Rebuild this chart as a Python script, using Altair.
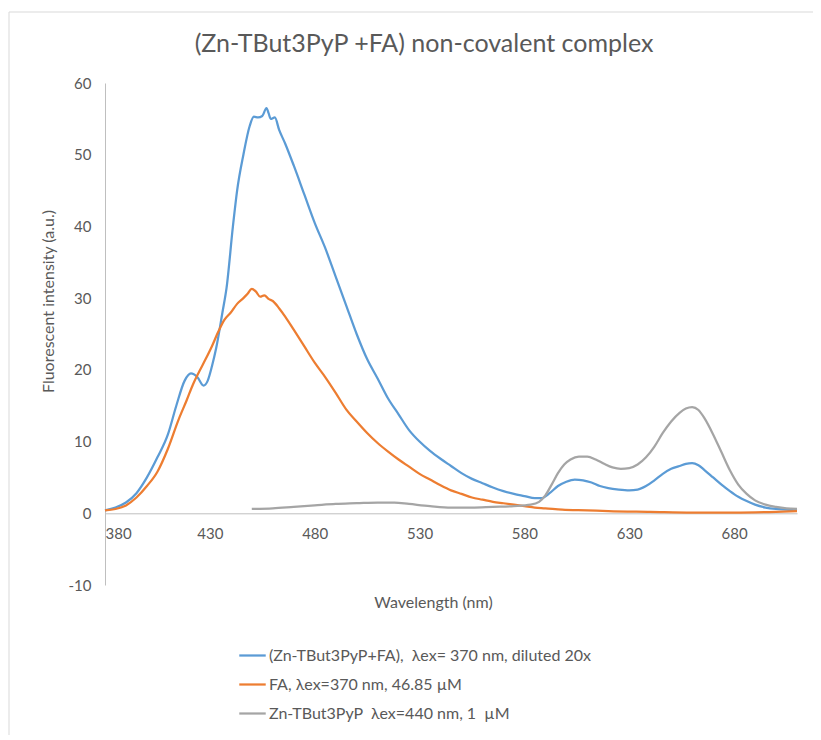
import altair as alt
import pandas as pd

# ---- data ----
blue_wl = [380, 385, 390, 395, 400, 405, 410, 414, 418, 421, 424, 427, 429, 431, 433, 436, 438, 441, 443, 446,
           449, 451, 453, 455, 457, 458, 459, 461, 463, 466, 470, 475, 480, 485, 490, 495, 500, 505, 510, 515,
           520, 525, 530, 535, 540, 545, 550, 555, 560, 565, 570, 575, 580, 585, 588, 592, 596, 600, 604, 608,
           612, 616, 620, 625, 630, 634, 638, 642, 646, 650, 654, 657, 660, 663, 666, 670, 674, 678, 682, 686,
           690, 695, 700, 705, 710]
blue_val = [0.4, 0.8, 1.5, 2.8, 5.0, 7.8, 11.0, 15.0, 18.5, 19.5, 19.0, 17.8, 18.5, 20.5, 23.0, 28.0, 31.5, 40.0, 45.0, 50.0,
            54.0, 55.3, 55.2, 55.4, 56.5, 55.8, 55.0, 55.2, 53.5, 51.5, 48.5, 44.5, 40.5, 37.0, 33.0, 29.0, 25.0, 21.5, 18.8, 16.0,
            13.8, 11.6, 10.0, 8.7, 7.6, 6.6, 5.6, 4.8, 4.2, 3.6, 3.1, 2.7, 2.4, 2.1, 2.1, 2.8, 3.8, 4.4, 4.7, 4.6,
            4.3, 3.8, 3.5, 3.3, 3.2, 3.3, 3.8, 4.6, 5.5, 6.2, 6.6, 6.9, 7.0, 6.7, 6.0, 5.0, 4.0, 3.1, 2.3, 1.7,
            1.2, 0.8, 0.6, 0.5, 0.4]

orange_wl = [380, 385, 390, 395, 400, 405, 410, 415, 419, 422, 425, 428, 431, 434, 437, 440, 443, 446, 448, 450,
             452, 454, 456, 458, 460, 463, 466, 470, 475, 480, 485, 490, 495, 500, 505, 510, 515, 520, 525, 530,
             535, 540, 545, 550, 555, 560, 565, 570, 575, 580, 585, 590, 598, 610, 620, 640, 660, 680, 700, 710]
orange_val = [0.4, 0.6, 1.1, 2.2, 3.8, 5.8, 9.0, 13.0, 15.8, 18.0, 19.8, 21.5, 23.3, 25.3, 27.0, 28.0, 29.2, 30.0, 30.6, 31.3,
              30.9, 30.2, 30.4, 29.9, 29.6, 28.6, 27.4, 25.6, 23.3, 21.0, 19.0, 16.8, 14.5, 12.8, 11.2, 9.8, 8.6, 7.5, 6.5, 5.5,
              4.7, 3.9, 3.2, 2.7, 2.2, 1.9, 1.6, 1.4, 1.2, 1.0, 0.8, 0.7, 0.5, 0.4, 0.3, 0.2, 0.1, 0.1, 0.2, 0.3]

gray_wl = [450, 460, 470, 480, 490, 500, 510, 518, 525, 535, 545, 555, 565, 575, 583, 587, 590, 593, 596, 599,
           602, 606, 610, 614, 618, 622, 626, 630, 634, 638, 642, 646, 650, 654, 657, 660, 663, 666, 670, 674,
           678, 682, 686, 690, 695, 700, 705, 710]
gray_val = [0.6, 0.7, 0.9, 1.1, 1.3, 1.4, 1.5, 1.5, 1.3, 1.0, 0.8, 0.8, 0.9, 1.0, 1.2, 1.6, 2.5, 4.0, 5.6, 6.8,
            7.5, 7.9, 7.9, 7.5, 6.9, 6.4, 6.2, 6.3, 6.8, 7.8, 9.3, 11.2, 12.8, 14.0, 14.6, 14.8, 14.4, 13.2, 11.0, 8.5,
            6.0, 4.0, 2.7, 1.8, 1.2, 0.9, 0.7, 0.6]

NB = "\u00a0"
series_names = [
    "(Zn-TBut3PyP+FA)," + NB + " \u03bbex= 370 nm, diluted 20x",
    "FA, \u03bbex=370 nm, 46.85 \u00b5M",
    "Zn-TBut3PyP" + NB + " \u03bbex=440 nm, 1" + NB + " \u00b5M",
]
series_colors = ["#5B9BD5", "#ED7D31", "#A5A5A5"]
x_ticks = [380, 430, 480, 530, 580, 630, 680]
y_ticks = [-10, 0, 10, 20, 30, 40, 50, 60]

frames = []
for name, wl, val in zip(series_names, [blue_wl, orange_wl, gray_wl], [blue_val, orange_val, gray_val]):
    frames.append(pd.DataFrame({"wl": wl, "val": val, "series": name}))
df = pd.concat(frames, ignore_index=True)

FONT = "Lato"
GREY = "#595959"

lines = alt.Chart(df).mark_line(strokeWidth=2.25, interpolate="monotone").encode(
    x=alt.X("wl:Q",
            scale=alt.Scale(domain=[380, 710], nice=False, zero=False),
            axis=alt.Axis(title="Wavelength (nm)", values=x_ticks, grid=False, ticks=False,
                          offset=-71.7, labelPadding=13, titlePadding=53, titleX=328,
                          domainColor="#BFBFBF", labelColor=GREY, titleColor=GREY,
                          labelFont=FONT, titleFont=FONT, labelFontSize=15, titleFontSize=16,
                          titleFontWeight="normal")),
    y=alt.Y("val:Q",
            scale=alt.Scale(domain=[-10, 60], nice=False),
            axis=alt.Axis(title="Fluorescent intensity (a.u.)", values=y_ticks, grid=False, ticks=False,
                          labelExpr="datum.value + ''",
                          labelPadding=14, titlePadding=12, titleY=218,
                          domainColor="#BFBFBF", labelColor=GREY, titleColor=GREY,
                          labelFont=FONT, titleFont=FONT, labelFontSize=15, titleFontSize=16,
                          titleFontWeight="normal")),
    color=alt.Color("series:N",
                    scale=alt.Scale(domain=series_names, range=series_colors),
                    sort=series_names,
                    legend=alt.Legend(title=None, orient="none", legendX=133, legendY=558,
                                      direction="vertical", symbolType="stroke", symbolSize=700,
                                      symbolStrokeWidth=2.25, labelFont=FONT, labelFontSize=16,
                                      labelColor=GREY, labelOffset=2, rowPadding=6, labelLimit=600)),
)

# light chart-area frame (decoration only)
frame = alt.Chart(alt.Data(values=[{}])).mark_rect(
    fill=None, stroke="#D9D9D9", strokeWidth=1
).encode(
    x=alt.value(-96), x2=alt.value(714), y=alt.value(-71), y2=alt.value(656)
)

chart = alt.layer(frame, lines).properties(
    width=692,
    height=502,
    autosize=alt.AutoSizeParams(type="none"),
    padding={"left": 97, "top": 75, "right": 16, "bottom": 150},
    title=alt.TitleParams("(Zn-TBut3PyP +FA) non-covalent complex", font=FONT, fontSize=25,
                          fontWeight="normal", color=GREY, anchor="middle", dx=-27, offset=-45),
).configure_view(stroke=None)

chart.save("out.html", embed_options={"renderer": "svg", "actions": False})
